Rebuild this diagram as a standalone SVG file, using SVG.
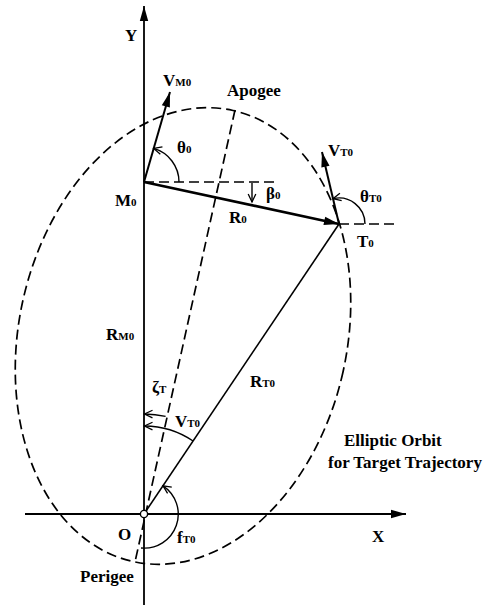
<svg xmlns="http://www.w3.org/2000/svg" width="499" height="605" viewBox="0 0 499 605">
<style>
.t{font-family:"Liberation Serif","Times New Roman",serif;font-weight:bold;font-size:17px;fill:#000}
.s{font-size:11px}
.ln{stroke:#000;fill:none}
.dash{stroke:#000;fill:none;stroke-width:1.7;stroke-dasharray:10 5}
.arc{stroke:#000;fill:none;stroke-width:1.4}
</style>
<defs>
<marker id="ah" markerUnits="userSpaceOnUse" markerWidth="20" markerHeight="12" viewBox="-16 -6 18 12" refX="0" refY="0" orient="auto">
<polygon points="0,0 -15,-4.2 -15,4.2" fill="#000"/>
</marker>
<marker id="oa" markerUnits="userSpaceOnUse" markerWidth="12" markerHeight="10" viewBox="-10 -5 12 10" refX="0" refY="0" orient="auto">
<path d="M-8,-3.8 L0,0 L-8,3.8" fill="none" stroke="#000" stroke-width="1.3"/>
</marker>
</defs>
<rect width="499" height="605" fill="#fff"/>

<g id="orbit">
<ellipse cx="183" cy="336" rx="164" ry="231" transform="rotate(12.5 183 336)" class="dash" stroke-width="1.8" stroke-dasharray="11 6"/>
<line id="major-axis" x1="235" y1="110" x2="135" y2="562" class="dash"/>
</g>

<g id="connectors">
<line id="y-axis" x1="144" y1="605" x2="144" y2="6" class="ln" stroke-width="1.8" marker-end="url(#ah)"/>
<line id="x-axis" x1="25" y1="514" x2="406" y2="514" class="ln" stroke-width="1.8" marker-end="url(#ah)"/>
<line id="m0-horiz" x1="144" y1="182" x2="276" y2="182" class="dash"/>
<line id="t0-horiz" x1="339" y1="224" x2="396" y2="224" class="dash"/>
<line id="v-m0" x1="144" y1="182" x2="170" y2="92" class="ln" stroke-width="2" marker-end="url(#ah)"/>
<line id="r0" x1="144" y1="182" x2="339" y2="224" class="ln" stroke-width="2.6" marker-end="url(#ah)"/>
<line id="v-t0" x1="339" y1="224" x2="322" y2="152" class="ln" stroke-width="2" marker-end="url(#ah)"/>
<line id="r-t0" x1="144" y1="514" x2="339" y2="224" class="ln" stroke-width="1.6"/>
<line id="beta0-arrow" x1="252" y1="183" x2="252" y2="202" class="arc" marker-end="url(#oa)"/>
<path id="theta0-arc" d="M179,182 A35,35 0 0 0 153.7,148.4" class="arc" marker-end="url(#oa)"/>
<path id="thetaT0-arc" d="M365,224 A26,26 0 0 0 333,198.7" class="arc" marker-end="url(#oa)"/>
<path id="zeta-arc" d="M165.6,416.4 A100,100 0 0 0 144.5,414" class="arc" marker-end="url(#oa)"/>
<path id="nu-arc" d="M193.1,441 A88,88 0 0 0 144.5,426" class="arc" marker-end="url(#oa)"/>
<path id="f-arc" d="M141,548 A34,34 0 0 0 163,485.8" class="arc" marker-end="url(#oa)"/>
</g>

<g id="origin">
<circle cx="144" cy="514" r="3.6" fill="#fff" stroke="#000" stroke-width="1.4"/>
<text class="t" x="118" y="540">O</text>
</g>

<g id="labels">
<text id="lbl-y" class="t" x="125" y="41" font-size="16">Y</text>
<text id="lbl-x" class="t" x="372" y="542" font-size="16">X</text>
<text id="lbl-vm0" class="t" x="163" y="86">V<tspan class="s">M0</tspan></text>
<text id="lbl-apogee" class="t" x="227" y="96" font-size="17.5">Apogee</text>
<text id="lbl-theta0" class="t" x="177" y="153">θ<tspan class="s">0</tspan></text>
<text id="lbl-m0" class="t" x="115" y="206">M<tspan class="s">0</tspan></text>
<text id="lbl-beta0" class="t" x="266" y="199">β<tspan class="s">0</tspan></text>
<text id="lbl-r0" class="t" x="229" y="223">R<tspan class="s">0</tspan></text>
<text id="lbl-vt0" class="t" x="328" y="156">V<tspan class="s">T0</tspan></text>
<text id="lbl-thetat0" class="t" x="360" y="202">θ<tspan class="s">T0</tspan></text>
<text id="lbl-t0" class="t" x="357" y="247">T<tspan class="s">0</tspan></text>
<text id="lbl-rm0" class="t" x="106" y="340">R<tspan class="s">M0</tspan></text>
<text id="lbl-zeta" class="t" x="152" y="393">ζ<tspan class="s">T</tspan></text>
<text id="lbl-nu" class="t" x="175" y="427">V<tspan class="s">T0</tspan></text>
<text id="lbl-rt0" class="t" x="250" y="387">R<tspan class="s">T0</tspan></text>
<text id="lbl-ft0" class="t" x="177" y="543">f<tspan class="s">T0</tspan></text>
<text id="lbl-perigee" class="t" x="80" y="582" font-size="17.5">Perigee</text>
<text id="lbl-orbit1" class="t" x="344" y="446" font-size="20">Elliptic Orbit</text>
<text id="lbl-orbit2" class="t" x="328" y="468" font-size="20">for Target Trajectory</text>
</g>
</svg>
